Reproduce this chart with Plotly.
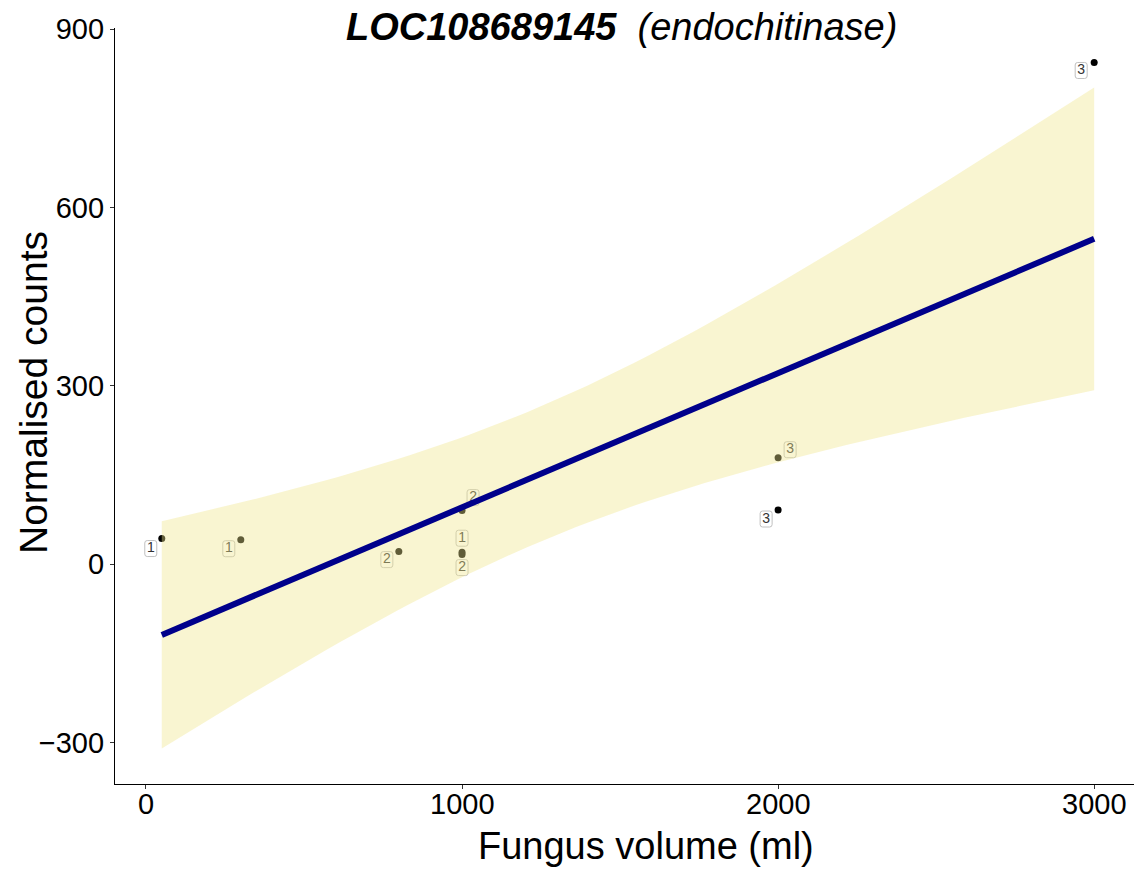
import numpy as np
import plotly.graph_objects as go

# Fungus volume (ml) and normalised counts per sample, with replicate labels
volume = [50, 300, 800, 1000, 1000, 1000, 2000, 2000, 3000]
counts = [43, 41, 21, 20, 16, 90, 179, 91, 844]
replicate = ["1", "1", "2", "1", "2", "2", "3", "3", "3"]

x_ticks = [0, 1000, 2000, 3000]
x_tick_text = ["0", "1000", "2000", "3000"]
y_ticks = [-300, 0, 300, 600, 900]
y_tick_text = ["\u2212300", "0", "300", "600", "900"]

# label nudges in screen pixels (right, down) relative to each point
label_nudge = [(-11, 10), (-12, 9), (-12, 8), (0, -14), (0, 13),
               (11, -13), (12, -8), (-12, 9), (-13, 8)]

FONT = "Liberation Sans, Arial, sans-serif"
W, H = 1134, 869
M_L, M_R, M_T, M_B = 115, 0, 28, 85
X_RANGE = [-98, 3126]
Y_RANGE = [-370, 902]
plot_w = W - M_L - M_R
plot_h = H - M_T - M_B
px_per_x = plot_w / (X_RANGE[1] - X_RANGE[0])
px_per_y = plot_h / (Y_RANGE[1] - Y_RANGE[0])

# ordinary least squares fit with a normal-approximation 95% band
xv = np.array(volume, dtype=float)
yv = np.array(counts, dtype=float)
n = len(xv)
mx = xv.mean()
sxx = ((xv - mx) ** 2).sum()
slope = ((xv - mx) * (yv - yv.mean())).sum() / sxx
intercept = yv.mean() - slope * mx
resid = yv - (intercept + slope * xv)
sigma = np.sqrt((resid ** 2).sum() / (n - 2))
grid = np.linspace(xv.min(), xv.max(), 80)
fit = intercept + slope * grid
se = sigma * np.sqrt(1 / n + (grid - mx) ** 2 / sxx)
upper = fit + 1.96 * se
lower = fit - 1.96 * se

fig = go.Figure()

# points (drawn first so the band tints them)
fig.add_trace(go.Scatter(
    x=volume, y=counts, mode="markers",
    marker=dict(color="black", size=7),
    showlegend=False, hoverinfo="skip"))

# replicate labels
lab_x = [vx + dx / px_per_x for vx, (dx, dy) in zip(volume, label_nudge)]
lab_y = [vy - dy / px_per_y for vy, (dx, dy) in zip(counts, label_nudge)]
fig.add_trace(go.Scatter(
    x=lab_x, y=lab_y, mode="text", text=replicate,
    textfont=dict(family=FONT, size=14, color="#333333"),
    textposition="middle center",
    showlegend=False, hoverinfo="skip"))

# confidence band
fig.add_trace(go.Scatter(
    x=np.concatenate([grid, grid[::-1]]),
    y=np.concatenate([upper, lower[::-1]]),
    fill="toself", fillcolor="rgba(240,230,140,0.4)",
    line=dict(width=0), mode="lines",
    showlegend=False, hoverinfo="skip"))

# fitted line
fig.add_trace(go.Scatter(
    x=grid, y=fit, mode="lines",
    line=dict(color="#00008B", width=6),
    showlegend=False, hoverinfo="skip"))

# rounded label boxes, sized in pixels around each label
hw, hh, r = 6, 8, 2.5
box_path = (f"M {-hw + r} {-hh} L {hw - r} {-hh} Q {hw} {-hh} {hw} {-hh + r} "
            f"L {hw} {hh - r} Q {hw} {hh} {hw - r} {hh} L {-hw + r} {hh} "
            f"Q {-hw} {hh} {-hw} {hh - r} L {-hw} {-hh + r} Q {-hw} {-hh} {-hw + r} {-hh} Z")
shapes = []
for lx, ly in zip(lab_x, lab_y):
    shapes.append(dict(
        type="path", xref="x", yref="y",
        xsizemode="pixel", ysizemode="pixel",
        xanchor=lx, yanchor=ly, path=box_path,
        fillcolor="white", line=dict(color="#c0c0c0", width=1),
        layer="below"))

annotations = [
    dict(text="<b><i>LOC108689145</i></b> &nbsp;<i>(endochitinase)</i>",
         xref="paper", yref="paper",
         x=(621.5 - M_L) / plot_w, y=(H - M_B - 27) / plot_h,
         xanchor="center", yanchor="middle", showarrow=False,
         font=dict(family=FONT, size=38, color="black")),
    dict(text="Fungus volume (ml)", xref="paper", yref="paper",
         x=(646 - M_L) / plot_w, y=(H - M_B - 846) / plot_h,
         xanchor="center", yanchor="middle", showarrow=False,
         font=dict(family=FONT, size=38, color="black")),
    dict(text="Normalised counts", xref="paper", yref="paper",
         x=(33 - M_L) / plot_w, y=(H - M_B - 393) / plot_h,
         xanchor="center", yanchor="middle", showarrow=False, textangle=-90,
         font=dict(family=FONT, size=39, color="black")),
]
# x tick labels placed close under the axis line
for tv, tt in zip(x_ticks, x_tick_text):
    annotations.append(dict(
        text=tt, xref="x", yref="paper", x=tv, y=(H - M_B - 804) / plot_h,
        xanchor="center", yanchor="middle", showarrow=False,
        font=dict(family=FONT, size=29, color="black")))

fig.update_layout(
    width=W, height=H,
    margin=dict(l=M_L, r=M_R, t=M_T, b=M_B),
    paper_bgcolor="white", plot_bgcolor="white",
    shapes=shapes, annotations=annotations,
    xaxis=dict(range=X_RANGE, tickvals=x_ticks, ticks="outside", ticklen=4,
               tickcolor="#333333", tickwidth=1, showline=True,
               linecolor="black", linewidth=1.3, showgrid=False,
               zeroline=False, showticklabels=False),
    yaxis=dict(range=Y_RANGE, tickvals=y_ticks, ticktext=y_tick_text,
               ticks="outside", ticklen=4, tickcolor="#333333", tickwidth=1,
               showline=True, linecolor="black", linewidth=1.3,
               showgrid=False, zeroline=False,
               tickfont=dict(family=FONT, size=29, color="black")),
)

fig.write_html("out.html")
